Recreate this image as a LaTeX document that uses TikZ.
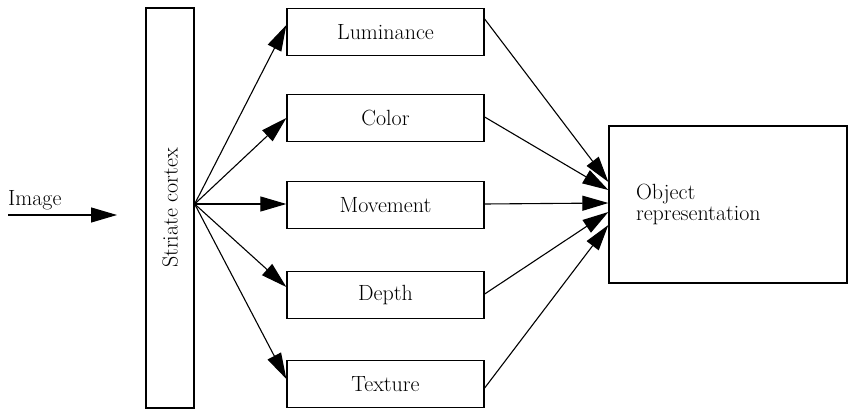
\documentclass[tikz,border=0pt]{standalone}
\usetikzlibrary{arrows.meta}

\begin{document}
\begin{tikzpicture}[x=1pt, y=-1pt,
  font=\fontsize{22}{21}\selectfont,
  box/.style={draw, line width=1.3pt, inner sep=0pt},
  stage/.style={box, minimum width=197pt, minimum height=47pt},
  link/.style={line width=1.1pt, -{Triangle[length=26pt,width=15pt]}}]
  \useasboundingbox (0,0) rectangle (848,409);
  \node[box, minimum width=48pt, minimum height=400pt,
        label={[rotate=90]center:Striate cortex}] (cortex) at (170,208) {};
  \node[stage] (lum)   at (385.5,32)  {Luminance};
  \node[stage] (col)   at (385.5,118) {Color};
  \node[stage] (move)  at (385.5,205) {Movement};
  \node[stage] (depth) at (385.5,295) {Depth};
  \node[stage] (tex)   at (385.5,384) {Texture};
  \node[box, minimum width=238pt, minimum height=157pt, text width=184pt,
        align=left] (obj) at (728,204.5) {Object\\representation};
  \node[anchor=base west, inner sep=0pt] (img) at (8,205) {Image};
  \coordinate (imgtail) at (8,215);
  \coordinate (imghead) at (117,215);
  \draw[link] (imgtail) -- (imghead);
  \draw[link] ([yshift=4pt]cortex.east) -- ([yshift=7pt]lum.west);
  \draw[link] ([yshift=4pt]cortex.east) -- (col.west);
  \draw[link] ([yshift=4pt]cortex.east) -- ([yshift=1pt]move.west);
  \draw[link] ([yshift=4pt]cortex.east) -- ([yshift=8pt]depth.west);
  \draw[link] ([yshift=4pt]cortex.east) -- ([yshift=5pt]tex.west);
  \draw[link] ([yshift=13pt]lum.east)  -- ([yshift=22.5pt]obj.west);
  \draw[link] ([yshift=1pt]col.east)   -- ([yshift=14.5pt]obj.west);
  \draw[link] ([yshift=1pt]move.east)  -- ([yshift=1.5pt]obj.west);
  \draw[link] ([yshift=1pt]depth.east) -- ([yshift=-7.5pt]obj.west);
  \draw[link] ([yshift=-4pt]tex.east)  -- ([yshift=-20.5pt]obj.west);
\end{tikzpicture}
\end{document}
